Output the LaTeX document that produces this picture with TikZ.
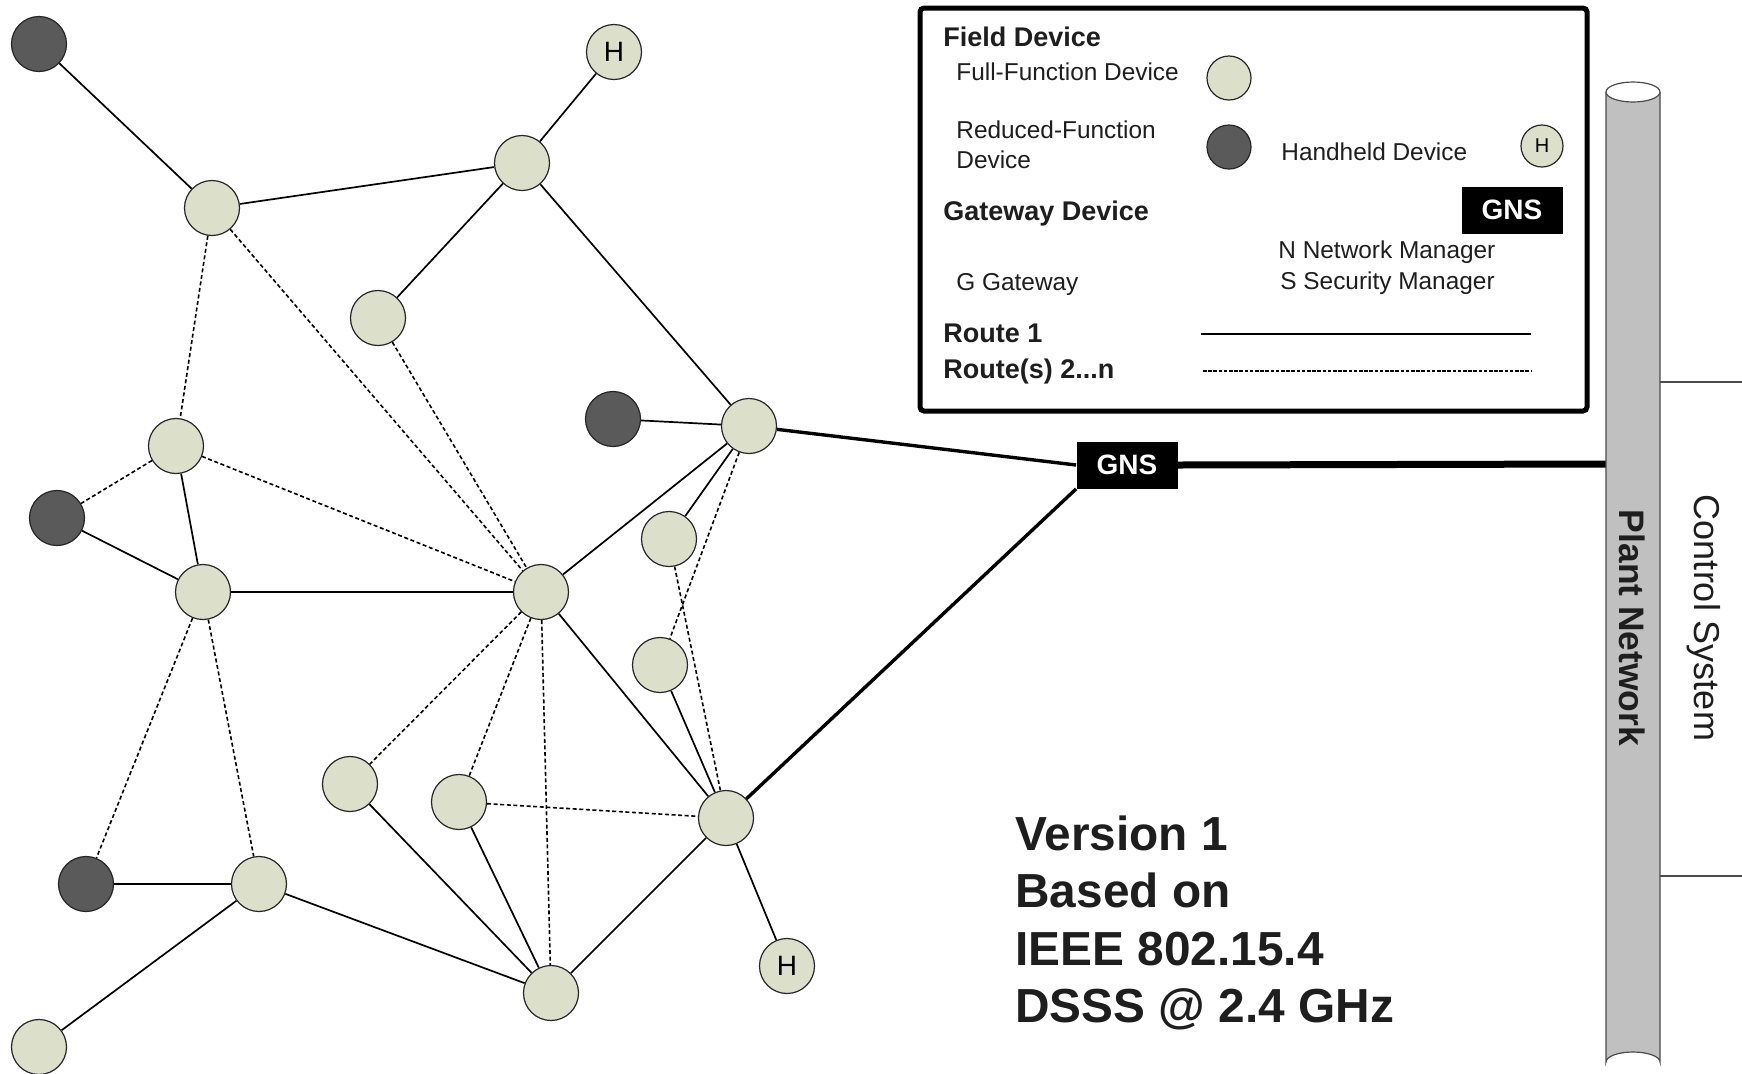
\documentclass[tikz,border=0pt]{standalone}
\usepackage{fontspec}
\setmainfont{Liberation Sans}
\usetikzlibrary{backgrounds}
\definecolor{ffd}{HTML}{DCE0CB}
\definecolor{rfd}{HTML}{5A5A5A}
\definecolor{polegray}{HTML}{C0C0C0}
\definecolor{txt}{HTML}{1E1E1E}
\begin{document}
\begin{tikzpicture}[x=0.5pt,y=-0.5pt,
  ffdnode/.style={circle,draw=black!85,line width=0.6pt,fill=ffd,minimum size=27.5pt,inner sep=0pt},
  rfdnode/.style={circle,draw=black!85,line width=0.6pt,fill=rfd,minimum size=27.5pt,inner sep=0pt},
  hhnode/.style={ffdnode,font=\fontsize{14}{14}\selectfont},
  lgffd/.style={ffdnode,minimum size=22pt},
  lgrfd/.style={rfdnode,minimum size=22pt},
  lghh/.style={ffdnode,minimum size=21pt,font=\fontsize{10}{10}\selectfont},
  gns/.style={fill=black,text=white,inner sep=0pt,minimum width=50.5pt,minimum height=23.5pt,font=\bfseries\fontsize{14}{14}\selectfont},
  route/.style={line width=0.85pt},
  alt/.style={line width=0.8pt,dash pattern=on 2pt off 1.3pt},
  gwlink/.style={line width=1.7pt},
  lgbold/.style={anchor=base west,inner sep=0pt,text=txt,font=\bfseries\fontsize{13.5}{13.5}\selectfont},
  lgreg/.style={anchor=base west,inner sep=0pt,text=txt,font=\fontsize{12.2}{12.2}\selectfont},
  bigtxt/.style={anchor=base west,inner sep=0pt,text=txt,font=\bfseries\fontsize{23.9}{23.9}\selectfont}
]
\useasboundingbox (0,0) rectangle (1742,1073);

% ---------- plant network pole ----------
\fill[polegray] (1606,92) -- (1606,1062) arc[start angle=180,end angle=360,x radius=27,y radius=10] -- (1660,92) -- cycle;
\draw[black!70,line width=0.6pt] (1606,92) -- (1606,1062) arc[start angle=180,end angle=360,x radius=27,y radius=10] -- (1660,92);
\draw[black!70,line width=0.6pt,fill=white] (1633,92) ellipse[x radius=27,y radius=10];
\coordinate (poleL) at (1606,464);
\coordinate (csA) at (1660,382);
\coordinate (csB) at (1660,876);
\coordinate (csAe) at (1742,382);
\coordinate (csBe) at (1742,876);
\draw[black!70,line width=0.6pt] (csA) -- (csAe);
\draw[black!70,line width=0.6pt] (csB) -- (csBe);
\node[rotate=-90,text=txt,font=\bfseries\fontsize{17.7}{17.7}\selectfont] (plantnet) at (1632,628) {Plant Network};
\node[rotate=-90,text=txt,font=\fontsize{18}{18}\selectfont] (ctrlsys) at (1704,618) {Control System};

% ---------- legend ----------
\draw[line width=2.5pt,rounded corners=2pt,fill=white] (920,8) rectangle (1587,411);
\node[lgbold] (lgfield) at (943,46) {Field Device};
\node[lgreg] (lgffdt) at (956,80.5) {Full-Function Device};
\node[lgffd] (lgffdc) at (1229,78) {};
\node[lgreg] (lgrfdt1) at (956,138.5) {Reduced-Function};
\node[lgreg] (lgrfdt2) at (956,168.5) {Device};
\node[lgrfd] (lgrfdc) at (1229,147) {};
\node[lgreg] (lghht) at (1281,160) {Handheld Device};
\node[lghh] (lghhc) at (1542,146) {H};
\node[lgbold] (lggw) at (943,220) {Gateway Device};
\node[gns] (lggns) at (1512,210) {GNS};
\node[lgreg] (lgnm) at (1278,258.5) {N Network Manager};
\node[lgreg] (lgsm) at (1280,289) {S Security Manager};
\node[lgreg] (lgg) at (956,290) {G Gateway};
\node[lgbold] (lgr1) at (943,342.5) {Route 1};
\node[lgbold] (lgr2) at (943,378) {Route(s) 2...n};
\coordinate (lgs1) at (1201,334);
\coordinate (lgs2) at (1531,334);
\coordinate (lgd1) at (1203,371);
\coordinate (lgd2) at (1531,371);
\draw[route,line width=1.1pt] (lgs1) -- (lgs2);
\draw[line width=1.1pt,dash pattern=on 1.8pt off 0.8pt] (lgd1) -- (lgd2);

% ---------- nodes ----------
\node[rfdnode] (D1) at (39,44) {};
\node[hhnode] (H1) at (614,52) {H};
\node[ffdnode] (A) at (212,208) {};
\node[ffdnode] (B) at (522,163) {};
\node[ffdnode] (C) at (378,318) {};
\node[ffdnode] (E) at (176,446) {};
\node[rfdnode] (D2) at (613,419) {};
\node[ffdnode] (F) at (749,426) {};
\node[rfdnode] (D3) at (57,518) {};
\node[ffdnode] (G) at (203,592) {};
\node[ffdnode] (Hub) at (541,592) {};
\node[ffdnode] (I) at (669,539) {};
\node[ffdnode] (J) at (660,665) {};
\node[ffdnode] (K) at (350,784) {};
\node[ffdnode] (L) at (459,802) {};
\node[ffdnode] (M) at (726,818) {};
\node[rfdnode] (D4) at (86,884) {};
\node[ffdnode] (N) at (259,884) {};
\node[ffdnode] (O) at (551,993) {};
\node[hhnode] (H2) at (787,966) {H};
\node[ffdnode] (P) at (39,1047) {};
\node[gns] (GNS) at (1127,465) {GNS};

% ---------- connectors ----------
\begin{scope}[on background layer]
  \draw[route] (D1) -- (A);
  \draw[route] (H1) -- (B);
  \draw[route] (A) -- (B);
  \draw[route] (B) -- (C);
  \draw[route] (B) -- (F);
  \draw[route] (D2) -- (F);
  \draw[route] (F) -- (I);
  \draw[route] (F) -- (Hub);
  \draw[route] (E) -- (G);
  \draw[route] (D3) -- (G);
  \draw[route] (G) -- (Hub);
  \draw[route] (Hub) -- (M);
  \draw[route] (J) -- (M);
  \draw[route] (M) -- (H2);
  \draw[route] (M) -- (O);
  \draw[route] (K) -- (O);
  \draw[route] (L) -- (O);
  \draw[route] (N) -- (O);
  \draw[route] (D4) -- (N);
  \draw[route] (N) -- (P);
  \draw[alt] (A) -- (E);
  \draw[alt] (A) -- (Hub);
  \draw[alt] (C) -- (Hub);
  \draw[alt] (E) -- (D3);
  \draw[alt] (E) -- (Hub);
  \draw[alt] (G) -- (D4);
  \draw[alt] (G) -- (N);
  \draw[alt] (Hub) -- (K);
  \draw[alt] (Hub) -- (L);
  \draw[alt] (Hub) -- (O);
  \draw[alt] (L) -- (M);
  \draw[alt] (F) -- (J);
  \draw[alt] (I) -- (M);
  \draw[gwlink] (F) -- (GNS.west);
  \draw[gwlink] (M) -- (GNS.south west);
  \draw[line width=3.5pt] (GNS.east) -- (poleL);
\end{scope}

% ---------- notes ----------
\node[bigtxt] (v1) at (1015,850) {Version 1};
\node[bigtxt] (v2) at (1015,907.5) {Based on};
\node[bigtxt] (v3) at (1015,965) {IEEE 802.15.4};
\node[bigtxt] (v4) at (1015,1022) {DSSS @ 2.4 GHz};
\end{tikzpicture}
\end{document}
